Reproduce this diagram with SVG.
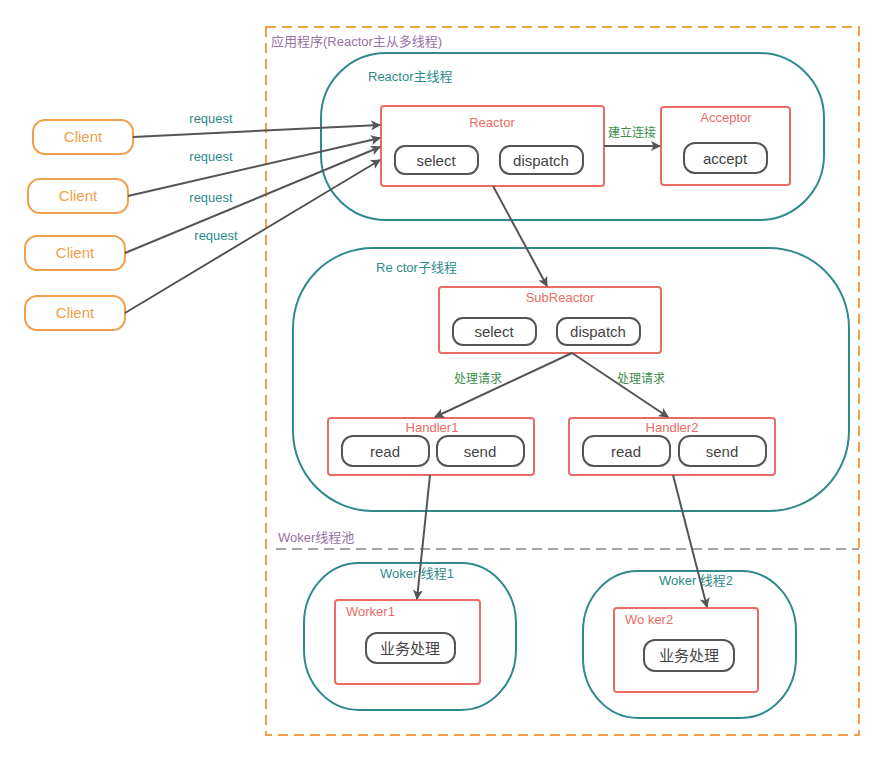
<svg xmlns="http://www.w3.org/2000/svg" width="884" height="759" viewBox="0 0 884 759">
<defs>
<marker id="ah" markerWidth="10" markerHeight="10" refX="9" refY="5" orient="auto" markerUnits="userSpaceOnUse" viewBox="0 0 10 10">
<path d="M0,0 L10,5 L0,10 L2.5,5 Z" fill="#555"/>
</marker>
<style>
text{font-family:"Liberation Sans","Noto Sans CJK SC",sans-serif}
.grp{fill:none;stroke:#2E8B89;stroke-width:2}
.box{fill:#fff;stroke:#EA6B66;stroke-width:2}
.pill{fill:#fff;stroke:#555;stroke-width:2}
.cli{fill:#fff;stroke:#F0A04B;stroke-width:2}
.t-cli{fill:#F0A04B;font-size:15px;text-anchor:middle}
.t-pill{fill:#444;font-size:15px;text-anchor:middle}
.t-box{fill:#EA6B66;font-size:13px;text-anchor:middle}
.t-boxl{fill:#EA6B66;font-size:13px;text-anchor:start}
.t-grp{fill:#2E8B89;font-size:13px}
.t-req{fill:#2E8B89;font-size:13px;text-anchor:middle}
.t-lab{fill:#3C8C4A;font-size:12px;text-anchor:middle}
.t-pur{fill:#9673A6;font-size:13px}
.conn{stroke:#555;stroke-width:2;fill:none;marker-end:url(#ah)}
</style>
</defs>
<rect width="884" height="759" fill="#fff"/>

<g id="app">
<rect x="266" y="27" width="593" height="708" fill="none" stroke="#F0A04B" stroke-width="2" stroke-dasharray="10,6"/>
<text class="t-pur" x="271" y="46" font-size="12">应用程序(Reactor主从多线程)</text>
</g>

<g id="pool">
<line x1="276" y1="549" x2="859" y2="549" stroke="#888" stroke-width="1.5" stroke-dasharray="10,6"/>
<text class="t-pur" x="278" y="542">Woker线程池</text>
</g>

<g id="mainReactorGroup">
<rect class="grp" x="321" y="53" width="503" height="167" rx="65" ry="65"/>
<text class="t-grp" x="368" y="81">Reactor主线程</text>
</g>

<g id="subReactorGroup">
<rect class="grp" x="293" y="248" width="556" height="263" rx="80" ry="80"/>
<text class="t-grp" x="376" y="272">Re ctor子线程</text>
</g>

<g id="worker1Group">
<rect class="grp" x="304" y="563" width="212" height="147" rx="55" ry="60"/>
<text class="t-grp" x="417" y="578" text-anchor="middle">Woker 线程1</text>
</g>

<g id="worker2Group">
<rect class="grp" x="583" y="571" width="213" height="147" rx="55" ry="60"/>
<text class="t-grp" x="696" y="585" text-anchor="middle">Woker 线程2</text>
</g>

<g id="client1"><rect class="cli" x="33" y="120" width="100" height="34" rx="12"/><text class="t-cli" x="83" y="142">Client</text></g>
<g id="client2"><rect class="cli" x="28" y="179" width="100" height="34" rx="12"/><text class="t-cli" x="78" y="201">Client</text></g>
<g id="client3"><rect class="cli" x="25" y="236" width="100" height="34" rx="12"/><text class="t-cli" x="75" y="258">Client</text></g>
<g id="client4"><rect class="cli" x="25" y="296" width="100" height="34" rx="12"/><text class="t-cli" x="75" y="318">Client</text></g>

<g id="reactor">
<rect class="box" x="381" y="106" width="223" height="80" rx="3"/>
<text class="t-box" x="492" y="127">Reactor</text>
<rect class="pill" x="395" y="146" width="83" height="28" rx="10"/>
<text class="t-pill" x="436" y="166">select</text>
<rect class="pill" x="500" y="146" width="83" height="28" rx="10"/>
<text class="t-pill" x="541" y="166">dispatch</text>
</g>

<g id="acceptor">
<rect class="box" x="661" y="107" width="129" height="78" rx="3"/>
<text class="t-box" x="726" y="122">Acceptor</text>
<rect class="pill" x="684" y="143" width="83" height="30" rx="11"/>
<text class="t-pill" x="725" y="164">accept</text>
</g>

<g id="subReactor">
<rect class="box" x="439" y="287" width="222" height="66" rx="3"/>
<text class="t-box" x="560" y="302">SubReactor</text>
<rect class="pill" x="453" y="318" width="83" height="27" rx="10"/>
<text class="t-pill" x="494" y="337">select</text>
<rect class="pill" x="557" y="318" width="83" height="27" rx="10"/>
<text class="t-pill" x="598" y="337">dispatch</text>
</g>

<g id="handler1">
<rect class="box" x="328" y="418" width="206" height="57" rx="3"/>
<text class="t-box" x="432" y="432">Handler1</text>
<rect class="pill" x="342" y="436" width="87" height="30" rx="11"/>
<text class="t-pill" x="385" y="457">read</text>
<rect class="pill" x="437" y="436" width="87" height="30" rx="11"/>
<text class="t-pill" x="480" y="457">send</text>
</g>

<g id="handler2">
<rect class="box" x="569" y="418" width="206" height="57" rx="3"/>
<text class="t-box" x="672" y="432">Handler2</text>
<rect class="pill" x="583" y="436" width="87" height="30" rx="11"/>
<text class="t-pill" x="626" y="457">read</text>
<rect class="pill" x="679" y="436" width="87" height="30" rx="11"/>
<text class="t-pill" x="722" y="457">send</text>
</g>

<g id="worker1">
<rect class="box" x="335" y="600" width="145" height="84" rx="3"/>
<text class="t-boxl" x="346" y="616">Worker1</text>
<rect class="pill" x="366" y="633" width="89" height="30" rx="11"/>
<text class="t-pill" x="410" y="654" font-size="14">业务处理</text>
</g>

<g id="worker2">
<rect class="box" x="614" y="608" width="144" height="84" rx="3"/>
<text class="t-boxl" x="625" y="624">Wo ker2</text>
<rect class="pill" x="644" y="640" width="90" height="31" rx="11"/>
<text class="t-pill" x="689" y="661" font-size="14">业务处理</text>
</g>

<g id="connectors">
<line class="conn" x1="133" y1="137" x2="380" y2="125"/>
<line class="conn" x1="128" y1="196" x2="380" y2="138"/>
<line class="conn" x1="125" y1="253" x2="380" y2="147"/>
<line class="conn" x1="125" y1="313" x2="380" y2="160"/>
<text class="t-req" x="211" y="123">request</text>
<text class="t-req" x="211" y="161">request</text>
<text class="t-req" x="211" y="202">request</text>
<text class="t-req" x="216" y="240">request</text>
<line class="conn" x1="604" y1="146" x2="660" y2="146"/>
<text class="t-lab" x="632" y="137">建立连接</text>
<line class="conn" x1="493" y1="186" x2="547" y2="286"/>
<line class="conn" x1="572" y1="353" x2="435" y2="417"/>
<line class="conn" x1="572" y1="353" x2="668" y2="417"/>
<text class="t-lab" x="478" y="383">处理请求</text>
<text class="t-lab" x="641" y="383">处理请求</text>
<line class="conn" x1="430" y1="475" x2="417" y2="599"/>
<line class="conn" x1="673" y1="475" x2="707" y2="607"/>
</g>
</svg>
